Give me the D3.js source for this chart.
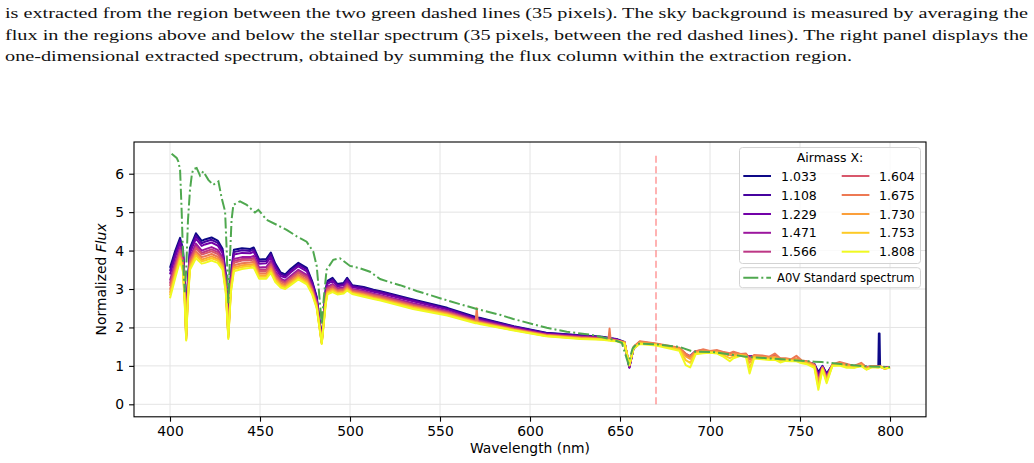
<!DOCTYPE html>
<html><head><meta charset="utf-8">
<script src="https://cdn.jsdelivr.net/npm/d3@7"></script>
<style>body{margin:0;background:#fff;} svg{display:block;}</style>
</head><body>
<svg id="chart" width="1034" height="463"></svg>
<script>
// ---------------- DATA ----------------
const captionLines = [
  "is extracted from the region between the two green dashed lines (35 pixels). The sky background is measured by averaging the",
  "flux in the regions above and below the stellar spectrum (35 pixels, between the red dashed lines). The right panel displays the",
  "one-dimensional extracted spectrum, obtained by summing the flux column within the extraction region."
];
const airmass = ["1.033","1.108","1.229","1.471","1.566","1.604","1.675","1.730","1.753","1.808"];
const wavelength = [400,402.8,405.6,407.2,408.2,409.0,409.8,411.1,414.4,417.6,
  419.4,423.1,426.5,429.2,431.0,432.4,433.8,435.5,440,444.6,
  446.5,449.5,453.5,456,458.5,461.5,464,467,471.3,476,
  479,481.5,484.3,486.5,487.5,490.3,493,496.5,498.4,501.2,
  507.6,513,517,535,554,
  569.8,570.4,571,
  572,591,609,628,640,
  643.6,644.2,644.8,
  648,
  652.5,655.2,657.5,661,670,
  683,686.5,689,692,696,700,704,707,711,713,
  717,720,722,724.5,729,733,736,739,742,745,
  748,751,754,758,760.2,762.5,764.8,768,772,776,
  780,784,787,790,793.5,793.8,794.2,794.5,797,800];
const flux_1033 = [3.55,3.98,4.33,4.05,3.2,1.95,3.1,4.07,4.45,4.25, 4.29,4.34,4.26,4.05,3.4,2.0,3.4,4.02,4.06,4.04, 4.08,3.77,3.78,3.95,3.66,3.43,3.38,3.52,3.68,3.55, 3.2,2.8,1.7,3.0,3.21,3.29,3.13,3.16,3.29,3.1, 3.05,2.98,2.94,2.73,2.51,
  2.27,2.27,2.26, 2.25,2.03,1.86,1.80,1.76, 1.73,1.73,1.72, 1.70, 1.62,0.97,1.45,1.60,1.56,
  1.43,1.30,1.25,1.38,1.40,1.37,1.36,1.33,1.30,1.31, 1.29,1.27,1.24,1.26,1.23,1.21,1.22,1.18,1.17,1.15,
  1.16,1.12,1.10,1.05,0.84,1.00,0.80,1.02,1.06,1.03, 1.00,1.03,0.97,0.98,0.98,1.84,1.84,0.98,0.95,0.96];
const flux_1108 = [3.47,3.91,4.27,3.99,3.14,1.92,3.05,4.01,4.39,4.19, 4.23,4.28,4.20,3.99,3.35,1.97,3.35,3.96,4.01,3.99, 4.03,3.72,3.73,3.90,3.61,3.39,3.34,3.48,3.64,3.51, 3.17,2.77,1.69,2.96,3.18,3.25,3.10,3.13,3.26,3.08, 3.03,2.96,2.92,2.71,2.49,
  2.25,2.25,2.24, 2.23,2.02,1.85,1.79,1.75, 1.72,1.72,1.71, 1.69, 1.61,0.96,1.45,1.60,1.56,
  1.43,1.30,1.24,1.38,1.40,1.37,1.36,1.33,1.29,1.31, 1.29,1.27,1.24,1.26,1.23,1.21,1.22,1.18,1.17,1.15,
  1.16,1.12,1.10,1.04,0.80,0.99,0.78,1.02,1.06,1.03, 0.99,1.03,0.97,0.98,0.98,0.98,0.98,0.98,0.95,0.96];
const flux_1229 = [3.38,3.82,4.20,3.92,3.07,1.89,2.99,3.94,4.31,4.12, 4.16,4.21,4.13,3.93,3.29,1.93,3.29,3.90,3.94,3.93, 3.97,3.66,3.67,3.83,3.55,3.34,3.30,3.43,3.59,3.46, 3.13,2.73,1.67,2.91,3.13,3.21,3.07,3.10,3.22,3.05, 2.99,2.93,2.89,2.68,2.47,
  2.23,2.23,2.22, 2.21,2.01,1.84,1.78,1.74, 1.72,1.72,1.71, 1.69, 1.61,0.95,1.46,1.61,1.56,
  1.44,1.31,1.25,1.38,1.39,1.37,1.37,1.33,1.29,1.31, 1.29,1.28,1.24,1.26,1.23,1.21,1.23,1.18,1.17,1.15,
  1.16,1.12,1.10,1.04,0.76,0.98,0.75,1.02,1.06,1.03, 0.99,1.03,0.97,0.98,0.98,0.98,0.98,0.98,0.95,0.96];
const flux_1471 = [3.22,3.68,4.08,3.80,2.95,1.83,2.89,3.83,4.18,4.0, 4.03,4.09,4.02,3.82,3.19,1.87,3.19,3.78,3.83,3.83, 3.86,3.56,3.57,3.73,3.46,3.27,3.22,3.34,3.50,3.37, 3.06,2.67,1.65,2.83,3.06,3.13,3.02,3.04,3.15,3.0, 2.95,2.88,2.84,2.63,2.43,
  2.20,2.20,2.19, 2.18,1.98,1.82,1.76,1.73, 1.71,1.71,1.70, 1.68, 1.60,0.98,1.46,1.61,1.56,
  1.44,1.30,1.24,1.37,1.39,1.37,1.38,1.33,1.30,1.32, 1.29,1.28,1.22,1.26,1.24,1.21,1.24,1.18,1.18,1.15,
  1.17,1.12,1.10,1.03,0.70,0.97,0.72,1.02,1.07,1.03, 0.99,1.04,0.96,0.98,0.98,0.98,0.98,0.98,0.95,0.96];
const flux_1566 = [3.14,3.61,4.02,3.74,2.89,1.80,2.84,3.77,4.11,3.94, 3.97,4.03,3.96,3.76,3.14,1.84,3.14,3.73,3.78,3.79, 3.81,3.51,3.51,3.67,3.41,3.23,3.18,3.30,3.46,3.33, 3.02,2.64,1.63,2.79,3.03,3.10,2.99,3.01,3.12,2.98, 2.92,2.86,2.82,2.60,2.41,
  2.19,2.19,2.18, 2.17,1.97,1.81,1.75,1.72, 1.70,1.70,1.69, 1.67, 1.60,1.0,1.47,1.62,1.57,
  1.45,1.30,1.23,1.37,1.40,1.37,1.38,1.34,1.30,1.33, 1.30,1.29,1.20,1.26,1.24,1.22,1.25,1.18,1.18,1.15,
  1.18,1.12,1.10,1.02,0.64,0.96,0.70,1.02,1.07,1.03, 0.98,1.04,0.96,0.98,0.98,0.98,0.98,0.98,0.95,0.96];
const flux_1604 = [3.08,3.55,3.98,3.69,2.84,1.78,2.80,3.73,4.06,3.90, 3.92,3.98,3.91,3.72,3.10,1.82,3.10,3.68,3.74,3.75, 3.77,3.47,3.47,3.63,3.37,3.20,3.15,3.27,3.42,3.29, 3.0,2.62,1.62,2.76,3.0,3.07,2.97,2.99,3.09,2.96, 2.90,2.84,2.80,2.58,2.39,
  2.17,2.17,2.16, 2.15,1.96,1.81,1.74,1.71, 1.69,1.69,1.69, 1.66, 1.61,1.01,1.48,1.63,1.57,
  1.45,1.29,1.22,1.36,1.41,1.37,1.39,1.35,1.30,1.34, 1.30,1.30,1.17,1.26,1.25,1.22,1.27,1.18,1.18,1.15,
  1.19,1.12,1.10,1.02,0.60,0.95,0.67,1.02,1.08,1.03, 0.98,1.05,0.95,0.98,0.97,0.97,0.98,0.98,0.94,0.96];
const flux_1675 = [2.98,3.47,3.91,3.62,2.77,1.74,2.74,3.66,3.98,3.83, 3.85,3.91,3.84,3.65,3.04,1.78,3.04,3.62,3.67,3.69, 3.71,3.41,3.41,3.57,3.31,3.15,3.11,3.22,3.37,3.24, 2.96,2.58,1.61,2.71,2.96,3.02,2.94,2.96,3.05,2.93, 2.87,2.81,2.77,2.55,2.37,
  2.15,2.50,2.14, 2.13,1.95,1.80,1.73,1.70, 1.69,1.97,1.68, 1.66, 1.62,1.03,1.50,1.64,1.58,
  1.47,1.32,1.25,1.38,1.43,1.39,1.41,1.37,1.33,1.37, 1.31,1.32,1.18,1.28,1.27,1.24,1.32,1.20,1.20,1.17,
  1.26,1.14,1.12,1.03,0.58,0.96,0.66,1.04,1.10,1.05, 1.0,1.08,0.96,1.0,0.99,0.99,0.99,1.0,0.92,0.97];
const flux_1730 = [2.90,3.40,3.85,3.56,2.71,1.71,2.69,3.60,3.92,3.77, 3.79,3.85,3.78,3.60,2.99,1.75,2.99,3.56,3.62,3.64, 3.65,3.36,3.36,3.52,3.27,3.11,3.07,3.18,3.33,3.20, 2.92,2.55,1.59,2.67,2.92,2.99,2.91,2.93,3.02,2.91, 2.85,2.78,2.74,2.53,2.35,
  2.14,2.14,2.13, 2.12,1.94,1.79,1.72,1.69, 1.68,1.68,1.67, 1.65, 1.60,1.02,1.47,1.61,1.56,
  1.44,1.25,1.18,1.35,1.39,1.37,1.37,1.33,1.28,1.31, 1.29,1.28,1.08,1.25,1.23,1.21,1.24,1.16,1.17,1.15,
  1.18,1.11,1.09,1.0,0.50,0.93,0.62,1.02,1.06,1.01, 0.98,1.04,0.93,0.98,0.97,0.97,0.98,0.98,0.94,0.96];
const flux_1753 = [2.84,3.34,3.80,3.51,2.66,1.69,2.65,3.56,3.87,3.72, 3.74,3.80,3.74,3.56,2.95,1.73,2.95,3.52,3.57,3.60, 3.61,3.32,3.32,3.47,3.23,3.08,3.04,3.14,3.29,3.16, 2.89,2.53,1.58,2.64,2.90,2.96,2.89,2.91,2.99,2.89, 2.83,2.76,2.72,2.51,2.33,
  2.13,2.13,2.12, 2.11,1.93,1.78,1.71,1.69, 1.67,1.67,1.66, 1.65, 1.59,1.03,1.46,1.59,1.55,
  1.42,1.15,1.08,1.33,1.36,1.36,1.34,1.29,1.20,1.25, 1.28,1.25,0.95,1.22,1.20,1.18,1.20,1.13,1.15,1.13,
  1.15,1.09,1.07,0.98,0.44,0.92,0.59,1.01,1.03,0.98, 0.96,1.01,0.91,0.97,0.96,0.96,0.97,0.97,0.93,0.95];
const flux_1808 = [2.76,3.27,3.74,3.45,2.6,1.66,2.6,3.5,3.8,3.66, 3.68,3.74,3.68,3.5,2.9,1.7,2.9,3.46,3.52,3.55, 3.56,3.27,3.27,3.42,3.18,3.04,3.0,3.1,3.25,3.12, 2.86,2.5,1.57,2.6,2.86,2.92,2.86,2.88,2.96,2.87, 2.8,2.74,2.7,2.48,2.31,
  2.11,2.11,2.10, 2.09,1.92,1.77,1.70,1.68, 1.66,1.66,1.65, 1.64, 1.58,1.02,1.45,1.57,1.53,
  1.39,1.02,0.96,1.30,1.33,1.34,1.32,1.25,1.12,1.20, 1.26,1.23,0.80,1.19,1.17,1.15,1.16,1.09,1.13,1.12,
  1.12,1.07,1.04,0.95,0.38,0.90,0.55,1.0,1.01,0.95, 0.95,0.99,0.90,0.97,0.96,0.96,0.97,0.98,0.93,0.95];
const standardWavelength = [400.9,403.7,404.6,405.6,406.5,407.4,408.2,409.0,410.0,411.1,
  412.2,413,414.8,416.7,418.5,421.3,424,426.9,428.7,430.6,
  431.5,432.4,433.3,434.2,435.2,438.9,442.6,447.2,449.1,453.7,
  459.3,464.8,470.4,475.9,479.6,481.5,483,484.3,485.5,487,
  490.7,494.4,500,505.6,511.1,516.7,524,527.8,537,555.6,
  570.4,583.3,590.7,609.3,620.4,635,646.3,651,654.6,657,
  659.3,670.4,683.3,690.6,701.7,720,740,758,762,770,785,800];
const standardFlux = [6.52,6.41,6.32,6.1,5.0,3.6,2.92,3.5,4.8,5.58,
  6.0,6.12,6.15,5.95,6.06,5.84,5.71,5.8,5.37,5.02,
  4.0,2.63,3.8,4.8,5.19,5.28,5.19,4.99,5.06,4.8,
  4.67,4.54,4.37,4.23,3.97,3.6,2.8,2.08,2.8,3.5,
  3.76,3.8,3.6,3.54,3.45,3.26,3.15,3.1,2.95,2.68,
  2.48,2.33,2.22,1.99,1.89,1.8,1.68,1.6,1.06,1.45,
  1.58,1.56,1.49,1.37,1.36,1.24,1.17,1.11,1.10,1.06,0.99,0.97];
const xTicks = [400,450,500,550,600,650,700,750,800];
const yTicks = [0,1,2,3,4,5,6];
const markerWavelength = [670, 670];
const markerFlux = [0, 6.5];
const legendTitle = "Airmass X:";
const standardLabel = "A0V Standard spectrum";
const xLabel = "Wavelength (nm)";

const seriesFlux = [flux_1033,flux_1108,flux_1229,flux_1471,flux_1566,flux_1604,flux_1675,flux_1730,flux_1753,flux_1808];

// ---------------- DRAW ----------------
const svg = d3.select('#chart');
const FONT = "'DejaVu Sans', sans-serif";
const L = 134, R = 926, T = 142, B = 416.8;
const x = d3.scaleLinear().domain([380, 820]).range([L, R]);
const y = d3.scaleLinear().domain([-0.325, 6.825]).range([B, T]);
const color = d3.scaleSequential(d3.interpolatePlasma).domain([0, airmass.length - 1]);

// caption
const cap = svg.append('g').attr('font-family', "'Liberation Serif', 'Times New Roman', serif").attr('font-size', 15).attr('fill', '#111');
const capPos = [{y: 18.3, len: 1023}, {y: 39.5, len: 1023}, {y: 60.5, len: 847}];
captionLines.forEach((t, i) => {
  cap.append('text').attr('x', 5).attr('y', capPos[i].y)
    .attr('textLength', capPos[i].len).attr('lengthAdjust', 'spacingAndGlyphs').text(t);
});

// grid
const grid = svg.append('g').attr('stroke', '#e4e4e4').attr('stroke-width', 1);
xTicks.forEach(v => grid.append('line').attr('x1', x(v)).attr('x2', x(v)).attr('y1', T).attr('y2', B));
yTicks.forEach(v => grid.append('line').attr('x1', L).attr('x2', R).attr('y1', y(v)).attr('y2', y(v)));

svg.append('clipPath').attr('id', 'clip').append('rect').attr('x', L).attr('y', T).attr('width', R - L).attr('height', B - T);
const plot = svg.append('g').attr('clip-path', 'url(#clip)');

const line = d3.line().x(d => x(d[0])).y(d => y(d[1]));

// red dashed marker
plot.append('path')
  .attr('d', line(markerWavelength.map((w, i) => [w, markerFlux[i]])))
  .attr('stroke', '#ff0000').attr('stroke-opacity', 0.3).attr('stroke-width', 2)
  .attr('stroke-dasharray', '7,3.5').attr('fill', 'none');

seriesFlux.forEach((arr, i) => {
  plot.append('path')
    .attr('d', line(wavelength.map((w, j) => [w, arr[j]])))
    .attr('stroke', color(i)).attr('stroke-width', 2).attr('fill', 'none')
    .attr('stroke-linejoin', 'round');
});

// standard spectrum
plot.append('path')
  .attr('d', line(standardWavelength.map((w, j) => [w, standardFlux[j]])))
  .attr('stroke', '#4fa84f').attr('stroke-width', 2).attr('fill', 'none')
  .attr('stroke-dasharray', '11,3,2,3');

// frame
svg.append('rect').attr('x', L).attr('y', T).attr('width', R - L).attr('height', B - T)
  .attr('fill', 'none').attr('stroke', '#000').attr('stroke-width', 1.1);

// axes
const xa = svg.append('g').attr('transform', `translate(0,${B})`)
  .call(d3.axisBottom(x).tickValues(xTicks).tickSize(4.9).tickPadding(4.9).tickSizeOuter(0));
const ya = svg.append('g').attr('transform', `translate(${L},0)`)
  .call(d3.axisLeft(y).tickValues(yTicks).tickSize(4.9).tickPadding(4.9).tickSizeOuter(0));
[xa, ya].forEach(a => {
  a.select('.domain').remove();
  a.selectAll('text').attr('font-family', FONT).attr('font-size', 13.9).attr('fill', '#000');
  a.selectAll('line').attr('stroke', '#000').attr('stroke-width', 1.1);
});

// axis labels
svg.append('text').attr('x', (L + R) / 2).attr('y', 452.5).attr('text-anchor', 'middle')
  .attr('font-family', FONT).attr('font-size', 13.9).text(xLabel);
const yl = svg.append('text').attr('transform', `translate(105.5,${(T + B) / 2}) rotate(-90)`)
  .attr('text-anchor', 'middle').attr('font-family', FONT).attr('font-size', 13.9);
yl.append('tspan').text('Normalized ');
yl.append('tspan').attr('font-style', 'italic').text('Flux');

// legend 1
const lg = svg.append('g').attr('font-family', FONT).attr('font-size', 12.5);
lg.append('rect').attr('x', 739.5).attr('y', 147.5).attr('width', 181).attr('height', 116).attr('rx', 3)
  .attr('fill', '#fff').attr('fill-opacity', 0.8).attr('stroke', '#d3d3d3').attr('stroke-width', 1);
lg.append('text').attr('x', 830).attr('y', 162).attr('text-anchor', 'middle').text(legendTitle);
const rowsY = [176, 195, 214, 232.8, 251.7];
airmass.forEach((a, i) => {
  const col = Math.floor(i / 5), row = i % 5;
  const hx = col === 0 ? 743.3 : 841.7;
  const tx = col === 0 ? 781 : 879;
  lg.append('line').attr('x1', hx).attr('x2', hx + 27.7).attr('y1', rowsY[row]).attr('y2', rowsY[row])
    .attr('stroke', color(i)).attr('stroke-width', 2);
  lg.append('text').attr('x', tx).attr('y', rowsY[row] + 4.5).text(a);
});
// legend 2
lg.append('rect').attr('x', 739.5).attr('y', 267.7).attr('width', 181).attr('height', 20).attr('rx', 3)
  .attr('fill', '#fff').attr('fill-opacity', 0.8).attr('stroke', '#d3d3d3').attr('stroke-width', 1);
lg.append('line').attr('x1', 743.3).attr('x2', 771).attr('y1', 277.7).attr('y2', 277.7)
  .attr('stroke', '#4fa84f').attr('stroke-width', 2).attr('stroke-dasharray', '15,3,2,3');
lg.append('text').attr('x', 777).attr('y', 282.2)
  .attr('textLength', 137.5).attr('lengthAdjust', 'spacingAndGlyphs').text(standardLabel);
</script>
</body></html>
